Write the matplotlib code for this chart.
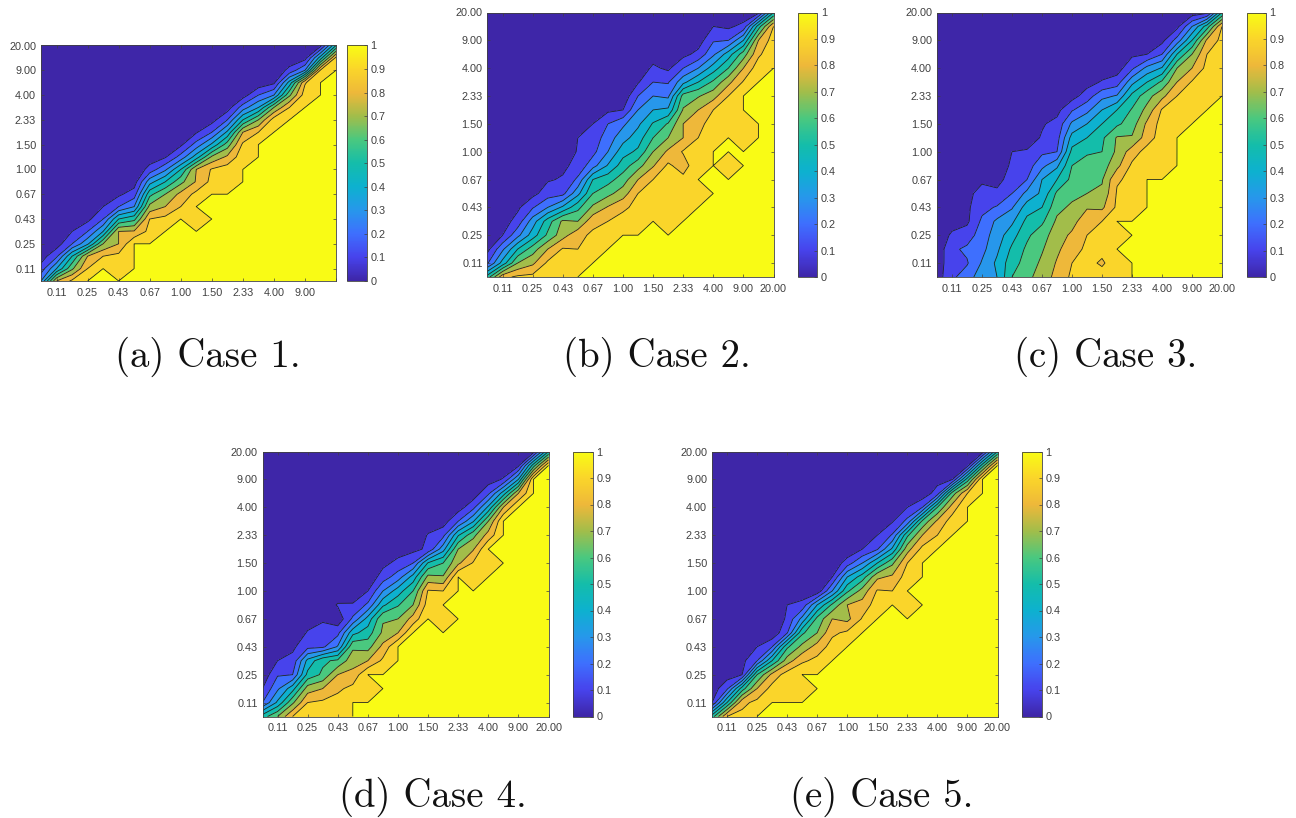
import matplotlib
matplotlib.use('Agg')
import matplotlib.pyplot as plt
from matplotlib.colors import LinearSegmentedColormap, Normalize
from matplotlib.cm import ScalarMappable
import numpy as np

# each column of a panel, left to right: (count of leading 100s, then values going up), rest is 0
case1 = [(0,[30,14,5]), (0,[80,40,18,5,1]), (0,[92,68,50,20,10,2]), (1,[90,80,38,20,7,2]),
         (2,[90,70,40,20,10,3]), (1,[96,93,80,80,50,20,8,2]), (4,[81,57,30,15,5,1]),
         (4,[93,90,73,57,36,14,4]), (5,[93,80,70,50,28,9,2]), (6,[90,83,67,50,24,8,2]),
         (5,[97,100,93,81,80,45,24,9,2]), (8,[93,91,72,42,20,6,1]), (8,[96,95,82,65,42,20,5]),
         (10,[96,92,80,50,25,5]), (12,[90,70,40,20,3]), (13,[95,70,30,8,2]),
         (14,[90,68,44,13,3]), (15,[95,89,30,6]), (17,[91,45,7]), (18,[93,50])]
case2 = [(0,[55,19,7,3]), (0,[87,44,28,10,5,2]), (0,[92,70,50,27,14,8,2]), (0,[93,78,65,45,35,19,7,3]),
         (0,[95,92,80,62,55,30,15,9,3]), (0,[97,95,91,76,72,42,17,11,8,2]),
         (1,[97,90,87,70,57,37,22,13,11,10,6,3]), (2,[96,92,87,72,60,50,26,17,14,10,5,2]),
         (3,[96,90,81,67,56,41,30,25,20,8,3]), (4,[94,88,75,65,55,46,36,28,10,3]),
         (4,[97,93,90,80,66,52,45,38,30,20,9,3]), (5,[95,93,90,79,70,60,51,40,30,20,12,5]),
         (4,[98,96,94,94,92,82,70,61,42,28,19,8,3]), (5,[97,95,93,85,91,80,80,71,64,37,20,7,2]),
         (6,[97,100,98,96,90,85,80,69,50,30,13,5]), (10,[98,97,90,76,62,45,28,19,10,2]),
         (8,[96,100,100,97,93,90,77,60,45,20,8,2]), (10,[97,97,100,100,91,80,65,40,13,3]),
         (15,[96,88,80,55,7]), (16,[98,95,90,50])]
case3 = [(0,[5,4,3,2]), (0,[18,17,18,12,5,2]), (0,[25,19,22,15,8,8,7,2]), (0,[36,31,27,25,22,17,14,8,2]),
         (0,[40,42,38,35,32,21,12,7,3]), (0,[60,56,52,46,38,29,20,14,12,10,5]),
         (0,[67,64,62,58,53,45,33,20,15,11,5,2]), (0,[75,72,69,66,58,50,42,40,27,18,11,9,3]),
         (0,[83,81,78,75,72,67,62,50,38,20,16,13,7,2]), (0,[92,90,86,82,76,72,67,63,60,53,44,32,19,6,1]),
         (0,[91,92,92,90,87,79,70,66,63,59,50,40,27,15,6]), (0,[93,89,92,92,90,78,72,69,65,60,58,50,40,27,11,4]),
         (0,[95,94,100,96,100,92,91,89,77,72,71,58,50,31,15,5]), (5,[95,93,92,92,85,71,65,61,53,37,18,8,2]),
         (8,[97,94,85,82,73,66,50,33,10,4]), (8,[98,96,95,94,91,77,62,41,20,7,2]),
         (11,[97,94,90,80,70,50,24,7,2]), (12,[98,95,91,80,70,50,30,4]),
         (13,[98,96,93,90,82,55,7]), (14,[98,97,95,93,90,50])]
case4 = [(0,[55,20,10,3]), (0,[70,42,28,19,10,3]), (0,[90,68,46,20,13,8,2]), (0,[93,90,75,53,43,17,11,5,1]),
         (0,[95,92,80,62,58,18,13,9,2]), (0,[96,94,88,80,62,31,17,3,11,2]), (2,[93,83,76,68,47,22,11,3]),
         (2,[97,100,80,66,55,44,22,10,2]), (4,[92,83,72,69,48,30,15,7,1]), (6,[80,70,59,45,25,13,5]),
         (7,[84,70,60,44,20,7]), (8,[95,91,73,51,12,11,3]), (7,[98,100,90,71,60,36,17,5]),
         (11,[78,70,49,20,5]), (10,[97,91,79,67,39,17,4]), (11,[97,100,84,70,42,18,5]),
         (15,[80,45,11,3]), (16,[80,40,8,1]), (18,[55,6]), (19,[50])]
case5 = [(0,[55,10,4,1]), (0,[90,50,18,5,1]), (0,[93,87,55,10,7,3,1]), (1,[93,80,60,20,10,2]),
         (2,[94,83,50,20,2]), (2,[97,95,75,58,19,12,10,2]), (2,[96,100,88,73,58,33,13,4]),
         (4,[93,84,70,63,40,3]), (5,[94,88,80,62,30,10,2]), (6,[92,77,80,58,40,15,2]),
         (7,[91,84,74,55,30,10,2]), (8,[95,91,78,50,19,10,2]), (9,[90,82,68,42,21,9,2]),
         (8,[94,100,95,90,76,58,23,10,3]), (12,[93,80,62,20,3]), (13,[90,82,60,15,6,1]),
         (14,[95,85,65,10,3]), (16,[90,55,7,1]), (18,[55,5]), (19,[50])]

tick_labels = ['0.11', '0.25', '0.43', '0.67', '1.00', '1.50', '2.33', '4.00', '9.00', '20.00']
captions = ['(a) Case 1.', '(b) Case 2.', '(c) Case 3.', '(d) Case 4.', '(e) Case 5.']
parula = ['#3e26a8', '#4743ec', '#3e6ffe', '#2797eb', '#0db1cf', '#14bdaa',
          '#4ac87f', '#a2bd4a', '#eeb83a', '#fad52a', '#f9fb15']

# axes box and colorbar box in image pixels: left, right, top, bottom, bar left, bar right, caption x, caption y
boxes = [(41, 336, 45.5, 281, 347, 367, 208, 357),
         (487.5, 773.5, 12.5, 277, 797.5, 817.5, 657, 357),
         (937, 1222, 12.5, 277, 1246.5, 1266, 1106, 357),
         (262.5, 548.5, 451.5, 716.5, 572.5, 593, 433, 797),
         (712, 997.5, 451.5, 716.5, 1022, 1042, 882, 797)]

W, H = 1296, 818
GREY = '#404040'
cmap = LinearSegmentedColormap.from_list('parula', parula, N=256)
# the yellow region is where the value is exactly 1
levels = [-0.01, 0.1, 0.2, 0.3, 0.4, 0.5, 0.6, 0.7, 0.8, 0.9, 0.9999, 1.01]


def expand(col):
    vals = [100] * col[0] + list(col[1])
    return vals + [0] * (20 - len(vals))


def px_axes(fig, left, right, top, bottom):
    return fig.add_axes([left / W, 1 - bottom / H, (right - left) / W, (bottom - top) / H])


fig = plt.figure(figsize=(W / 100, H / 100), dpi=100)
grid = np.arange(1, 21)
ticks = np.arange(2, 21, 2)

for n, case in enumerate([case1, case2, case3, case4, case5]):
    b = boxes[n]
    Z = np.array([expand(c) for c in case]).T / 100.0
    ax = px_axes(fig, b[0], b[1], b[2], b[3])
    ax.contourf(grid, grid, Z, levels=levels, colors=parula)
    ax.contour(grid, grid, Z, levels=levels[1:-1], colors='#222222', linewidths=0.6)
    ax.set_xlim(1, 20)
    ax.set_ylim(1, 20)
    ax.set_xticks(ticks)
    ax.set_yticks(ticks)
    # panel (a) has no label on its last x tick
    ax.set_xticklabels(tick_labels[:-1] + [''] if n == 0 else tick_labels)
    ax.set_yticklabels(tick_labels)
    ax.tick_params(direction='in', length=2.5, width=0.5, color=GREY, labelcolor=GREY,
                   labelsize=7.8, top=True, right=True)
    ax.tick_params(axis='x', pad=5)
    ax.tick_params(axis='y', pad=3.5)
    for lab in ax.get_xticklabels() + ax.get_yticklabels():
        lab.set_family('Liberation Sans')
    for s in ax.spines.values():
        s.set_color(GREY)
        s.set_linewidth(0.6)

    cax = px_axes(fig, b[4], b[5], b[2], b[3])
    cb = fig.colorbar(ScalarMappable(Normalize(0, 1), cmap), cax=cax)
    cb.set_ticks(np.arange(0, 11) / 10.0)
    cb.set_ticklabels(['0', '0.1', '0.2', '0.3', '0.4', '0.5', '0.6', '0.7', '0.8', '0.9', '1'])
    cax.tick_params(direction='in', length=2, width=0.5, color=GREY, labelcolor=GREY, labelsize=7.8, pad=2.5)
    for lab in cax.get_yticklabels():
        lab.set_family('Liberation Sans')
    cb.outline.set_edgecolor(GREY)
    cb.outline.set_linewidth(0.6)

    fig.text(b[6] / W, 1 - b[7] / H, captions[n], family='cmr10', fontsize=28,
             ha='center', va='center', color='#111111')

fig.savefig('out.png', dpi=100)
